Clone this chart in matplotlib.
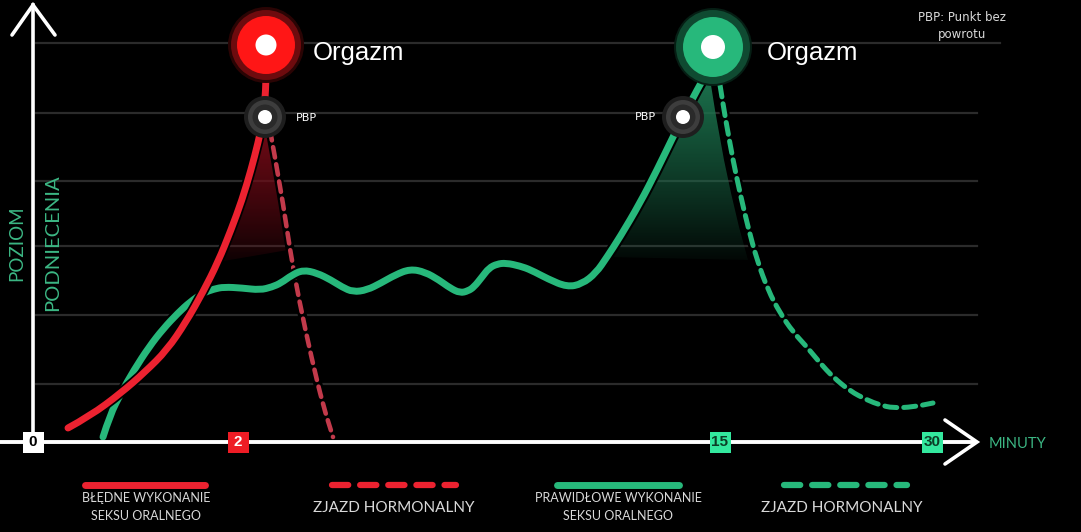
import numpy as np
import matplotlib
matplotlib.use("Agg")
import matplotlib.pyplot as plt
from matplotlib.patches import Circle, Polygon, Rectangle, PathPatch
from matplotlib.path import Path

# curves: x in px from the left edge, level = px above the time axis
red_x = [68, 90, 121, 145, 167, 186, 203, 218, 231, 242, 251, 258, 263, 265, 266, 266, 266]
red_y = [14, 26, 49, 70, 92, 120, 150, 180, 212, 242, 272, 299, 322, 342, 362, 382, 397]
red_drop_x = [270, 281, 290, 299, 312, 323, 333]
red_drop_y = [312, 252, 192, 142, 82, 37, 5]

green_x = [103, 110, 121, 134, 149, 163, 178, 190, 203, 214, 224, 242, 260, 272, 281, 292,
           303, 317, 331, 342, 353, 367, 381, 395, 410, 425, 439, 450, 460, 468, 474, 482,
           489, 497, 506, 520, 531, 548, 567, 582, 596, 607, 620, 640, 657, 673, 683, 697,
           710, 713]
green_y = [5, 27, 49, 72, 95, 113, 129, 140, 149, 153, 155, 154, 152, 155, 159, 167,
           172, 169, 162, 155, 150, 152, 159, 167, 173, 170, 162, 154, 149, 151, 155, 165,
           174, 178, 179, 176, 172, 163, 155, 158, 169, 185, 205, 239, 272, 305, 325, 352,
           375, 395]
green_drop_x = [720, 724, 727, 733, 740, 748, 757, 768, 780, 793, 807, 820, 833, 850, 867,
                880, 893, 913, 933]
green_drop_y = [357, 332, 315, 282, 249, 215, 182, 152, 129, 110, 95, 79, 65, 51, 42,
                37, 34, 35, 39]

tick_labels = ["0", "2", "15", "30"]
tick_x = [33, 238, 720, 932]
grid_levels = [58, 127, 196, 261, 329, 399]

RED = "#ec2230"
RED_DASH = "#c23a4b"
GREEN = "#27b87b"
GREEN_TICK = "#33e89e"
AXIS_TXT = "#3cb784"
LIGHT = "#d9d9d9"

fig = plt.figure(figsize=(10.81, 5.32), dpi=100, facecolor="black")
ax = fig.add_axes([0, 0, 1, 1])
ax.set_facecolor("black")
ax.set_xlim(0, 1081)
ax.set_ylim(-90, 442)
ax.axis("off")

# grid
for i, g in enumerate(grid_levels):
    ax.plot([36, 1000 if i == len(grid_levels) - 1 else 977], [g, g],
            color="#2b2b2b", lw=1.6, zorder=1)


def smooth_path(xs, ys):
    # quadratic bezier through midpoints, read points act as control points
    pts = np.column_stack([xs, ys]).astype(float)
    verts = [pts[0]]
    codes = [Path.MOVETO]
    for i in range(1, len(pts) - 1):
        mid = (pts[i] + pts[i + 1]) / 2
        verts += [pts[i], mid]
        codes += [Path.CURVE3, Path.CURVE3]
    verts.append(pts[-1])
    codes.append(Path.LINETO)
    return Path(verts, codes)


def draw_curve(xs, ys, color, lw, z, ls="-", outline=None):
    if outline:
        ax.add_patch(PathPatch(smooth_path(xs, ys), fill=False, edgecolor="black",
                               lw=outline, zorder=z - 1, capstyle="round"))
    ax.add_patch(PathPatch(smooth_path(xs, ys), fill=False, edgecolor=color, lw=lw,
                           linestyle=ls, zorder=z, capstyle="round",
                           joinstyle="round"))


def gradient_fill(xs, ys, top_rgb, y0, y1, power=1.0):
    poly = Polygon(np.column_stack([xs, ys]), closed=True, facecolor="none",
                   edgecolor="none")
    ax.add_patch(poly)
    n = 256
    a = np.linspace(0, 1, n)[:, None] ** power
    img = np.zeros((n, 2, 4))
    img[..., 0] = top_rgb[0]
    img[..., 1] = top_rgb[1]
    img[..., 2] = top_rgb[2]
    img[..., 3] = a
    im = ax.imshow(img, extent=[min(xs), max(xs), y0, y1], origin="lower",
                   aspect="auto", zorder=2, interpolation="bilinear")
    im.set_clip_path(poly)


# shaded areas under the peaks: up along the rising curve, down along the drop
rx = [v for v, l in zip(red_x, red_y) if 165 <= l <= 325]
ry = [l for l in red_y if 165 <= l <= 325]
dx = [v - 2 for v, l in zip(red_drop_x, red_drop_y) if l >= 165]
dy = [l for l in red_drop_y if l >= 165]
gradient_fill(rx + [266] + dx, ry + [328] + dy, (0.45, 0.04, 0.09), 170, 318, 0.8)

gx = [v for v, l in zip(green_x, green_y) if v >= 600]
gy = [l for v, l in zip(green_x, green_y) if v >= 600]
hx = [v - 9 for v, l in zip(green_drop_x, green_drop_y) if l >= 172]
hy = [l for l in green_drop_y if l >= 172]
gradient_fill(gx + hx, gy + hy, (0.11, 0.46, 0.31), 172, 372, 0.9)

# curves
draw_curve(red_drop_x, red_drop_y, RED_DASH, 3.3, 4, ls=(0, (2.3, 1.5)), outline=6.5)
draw_curve(green_drop_x, green_drop_y, GREEN, 3.6, 4, ls=(0, (2.4, 1.4)), outline=7)
draw_curve(green_x, green_y, GREEN, 5, 6, outline=8)
draw_curve(red_x, red_y, RED, 5, 8, outline=7.5)

# axes with arrows
ax.plot([33, 33], [0, 437], color="white", lw=2.6, zorder=9)
ax.plot([12, 33, 55], [407, 437, 407], color="white", lw=2.6, zorder=9,
        solid_capstyle="round", solid_joinstyle="miter")
ax.plot([0, 975], [0, 0], color="white", lw=2.8, zorder=9)
ax.plot([945, 977, 945], [22, 0, -22], color="white", lw=2.6, zorder=9,
        solid_capstyle="round", solid_joinstyle="miter")

# tick boxes
box_style = {"0": ("white", "black"), "2": ("#ee1c25", "white"),
             "15": (GREEN_TICK, "#0b3d26"), "30": (GREEN_TICK, "#0b3d26")}
for lab, x in zip(tick_labels, tick_x):
    bg, fg = box_style[lab]
    ax.add_patch(Rectangle((x - 10.5, -10.5), 21, 21, facecolor=bg, edgecolor="none",
                           zorder=10))
    ax.text(x, -0.5, lab, ha="center", va="center", color=fg, fontsize=11,
            fontweight="bold", zorder=11, family="Liberation Sans")

ax.text(989, -2, "MINUTY", color=AXIS_TXT, fontsize=10.5, ha="left", va="center",
        family="Lato")
ax.text(17, 199, "POZIOM", color=AXIS_TXT, fontsize=13.5, rotation=90,
        ha="center", va="center", family="Lato")
ax.text(53, 199, "PODNIECENIA", color=AXIS_TXT, fontsize=14.5, rotation=90,
        ha="center", va="center", family="Lato")


def peak_marker(cx, cy, outer, mid, col_outer, col_mid, white_r):
    ax.add_patch(Circle((cx, cy), outer, color=col_outer, zorder=12, lw=0))
    ax.add_patch(Circle((cx, cy), mid, color=col_mid, zorder=12, lw=0))
    ax.add_patch(Circle((cx, cy), white_r, color="white", zorder=13, lw=0))


# orgasm and PBP markers sit on the curve ends
ax.add_patch(Circle((red_x[-1], red_y[-1]), 38, color="#2a0404", zorder=11, lw=0))
peak_marker(red_x[-1], red_y[-1], 35, 29, "#6e0b0e", "#ff1616", 10.5)
ax.add_patch(Circle((green_x[-1], green_y[-1]), 39, color="#061e14", zorder=11, lw=0))
peak_marker(green_x[-1], green_y[-1], 37, 30, "#0f4a31", GREEN, 12)
for px, py in [(265, 325), (683, 325)]:
    ax.add_patch(Circle((px, py), 21, color="#1e1e1e", zorder=12, lw=0))
    ax.add_patch(Circle((px, py), 17, color="#3d3d3d", zorder=12, lw=0))
    ax.add_patch(Circle((px, py), 12.5, color="#2a2a2a", zorder=12, lw=0))
    ax.add_patch(Circle((px, py), 7, color="white", zorder=13, lw=0))

ax.text(313, 389, "Orgazm", color="white", fontsize=18.5, va="center", ha="left",
        family="Liberation Sans")
ax.text(767, 389, "Orgazm", color="white", fontsize=18.5, va="center", ha="left",
        family="Liberation Sans")
ax.text(296, 324, "PBP", color="white", fontsize=8, va="center", ha="left")
ax.text(656, 325, "PBP", color="white", fontsize=8, va="center", ha="right")
ax.text(962, 416, "PBP: Punkt bez\npowrotu", color=LIGHT, fontsize=8.5, ha="center",
        va="center", linespacing=1.45)

# legend
ax.plot([85, 205], [-43, -43], color=RED, lw=5, solid_capstyle="round")
ax.plot([332, 456], [-43, -43], color=RED, lw=4.5, ls=(0, (2.6, 1.9)),
        dash_capstyle="round")
ax.plot([557, 679], [-43, -43], color=GREEN, lw=5, solid_capstyle="round")
ax.plot([784, 907], [-43, -43], color=GREEN, lw=4.5, ls=(0, (2.6, 1.9)),
        dash_capstyle="round")
ax.text(146, -65, "BŁĘDNE WYKONANIE\nSEKSU ORALNEGO", color=LIGHT, fontsize=9,
        ha="center", va="center", linespacing=1.5, family="Lato")
ax.text(618, -65, "PRAWIDŁOWE WYKONANIE\nSEKSU ORALNEGO", color=LIGHT, fontsize=9,
        ha="center", va="center", linespacing=1.5, family="Lato")
ax.text(394, -66, "ZJAZD HORMONALNY", color=LIGHT, fontsize=11, ha="center",
        va="center", family="Lato")
ax.text(842, -66, "ZJAZD HORMONALNY", color=LIGHT, fontsize=11, ha="center",
        va="center", family="Lato")

fig.savefig("out.png", dpi=100, facecolor="black")
